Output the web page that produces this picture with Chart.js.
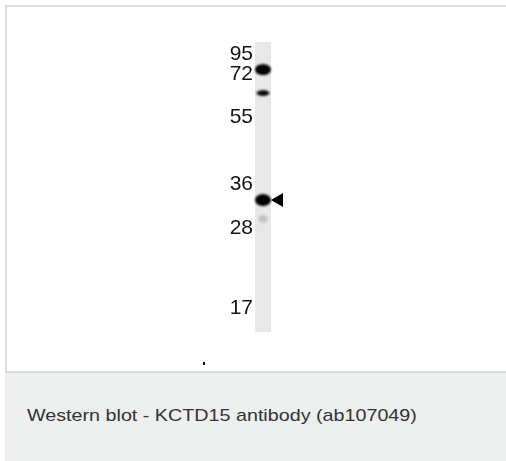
<!DOCTYPE html>
<html>
<head>
<meta charset="utf-8">
<script src="https://cdn.jsdelivr.net/npm/chart.js@4.4.1/dist/chart.umd.min.js"></script>
<style>
  html, body { margin:0; padding:0; background:#fff; width:506px; height:461px; overflow:hidden; }
  #frame { position:absolute; left:5px; top:5px; width:501px; height:368px; box-sizing:border-box;
           border-top:2px solid #dcdcdc; border-left:2px solid #dcdcdc; border-bottom:2px solid #dcdcdc; }
  #chart { position:absolute; left:0; top:0; }
  #speck { position:absolute; left:203px; top:362px; width:2px; height:3px; background:#111; }
  #caption { position:absolute; left:5px; top:373px; width:501px; height:88px; background:#edeeee; }
  #captext { position:absolute; left:22px; top:33px; font-family:"Liberation Sans", Arial, sans-serif;
             font-size:17px; line-height:20px; color:#333; white-space:nowrap;
             transform:scaleX(1.16); transform-origin:0 0; }
</style>
</head>
<body>
<div id="frame"></div>
<canvas id="chart" width="506" height="372"></canvas>
<div id="speck"></div>
<div id="caption"><span id="captext">Western blot - KCTD15 antibody (ab107049)</span></div>
<script>
// ---- data (read from the blot) ----
const laneLabels = ['KCTD15'];
// molecular-weight marker labels (kDa) and their migration (% of lane length)
const markerKDa = [95, 72, 55, 36, 28, 17];
const markerMigration = [4.3, 11.2, 25.9, 49.1, 64.1, 91.7];
// detected bands: migration (% of lane length) and relative intensity
const bandMigration = [9.5, 17.6, 54.5, 61.0];
const bandIntensity = [1.0, 0.95, 1.0, 0.16];
// band of interest marked by the arrowhead
const arrowMigration = [54.5];
// lane extent (% of lane length)
const laneSpan = [0, 100];

// ---- styles ----
const bandSize = [[16, 11], [13, 6], [16, 12], [9, 8]];
function bandImage(w, h, alpha) {
  const pad = 4;
  const c = document.createElement('canvas');
  c.width = w + pad * 2; c.height = h + pad * 2;
  const g = c.getContext('2d');
  g.filter = 'blur(0.9px)';
  g.fillStyle = 'rgba(0,0,0,' + alpha + ')';
  g.beginPath();
  g.ellipse(c.width / 2, c.height / 2, w / 2, h / 2, 0, 0, Math.PI * 2);
  g.fill();
  return c;
}
const bandStyles = bandIntensity.map((a, i) => bandImage(bandSize[i][0], bandSize[i][1], a));

Chart.defaults.font.family = '"Liberation Sans", Arial, sans-serif';

new Chart(document.getElementById('chart'), {
  type: 'bar',
  data: {
    labels: laneLabels,
    datasets: [
      {
        type: 'scatter', xAxisID: 'x',
        data: bandMigration.map(m => ({ x: laneLabels[0], y: m })),
        pointStyle: bandStyles, pointRadius: 8, pointHoverRadius: 20, order: 0
      },
      {
        type: 'scatter', xAxisID: 'xa',
        data: arrowMigration.map(m => ({ x: 2.0, y: m })),
        pointStyle: 'triangle', rotation: -90, pointRadius: 8, pointHoverRadius: 24,
        backgroundColor: '#000', borderColor: '#000', borderWidth: 0, clip: false, order: 0
      },
      {
        type: 'bar', xAxisID: 'x', grouped: false,
        data: laneLabels.map(() => laneSpan),
        barPercentage: 1, categoryPercentage: 1, borderWidth: 0,
        backgroundColor: '#e8e8e8', order: 1
      }
    ]
  },
  options: {
    responsive: false, animation: false, devicePixelRatio: 1, events: [],
    layout: { padding: { left: 0, right: 235, top: 42, bottom: 40 } },
    plugins: { legend: { display: false }, tooltip: { enabled: false } },
    scales: {
      x: { type: 'category', display: false, offset: true },
      xa: { type: 'linear', display: false, offset: false, min: -1, max: 1 },
      y: {
        type: 'linear', reverse: true, min: 0, max: 100,
        grid: { display: false, drawTicks: false }, border: { display: false },
        afterFit: (s) => { s.width = 255; },
        afterBuildTicks: (s) => { s.ticks = markerMigration.map(v => ({ value: v })); },
        ticks: {
          autoSkip: false, padding: 2, color: '#141414', font: { size: 21 },
          callback: (v) => { const i = markerMigration.indexOf(v); return i >= 0 ? String(markerKDa[i]) : ''; }
        }
      }
    }
  }
});
</script>
</body>
</html>
